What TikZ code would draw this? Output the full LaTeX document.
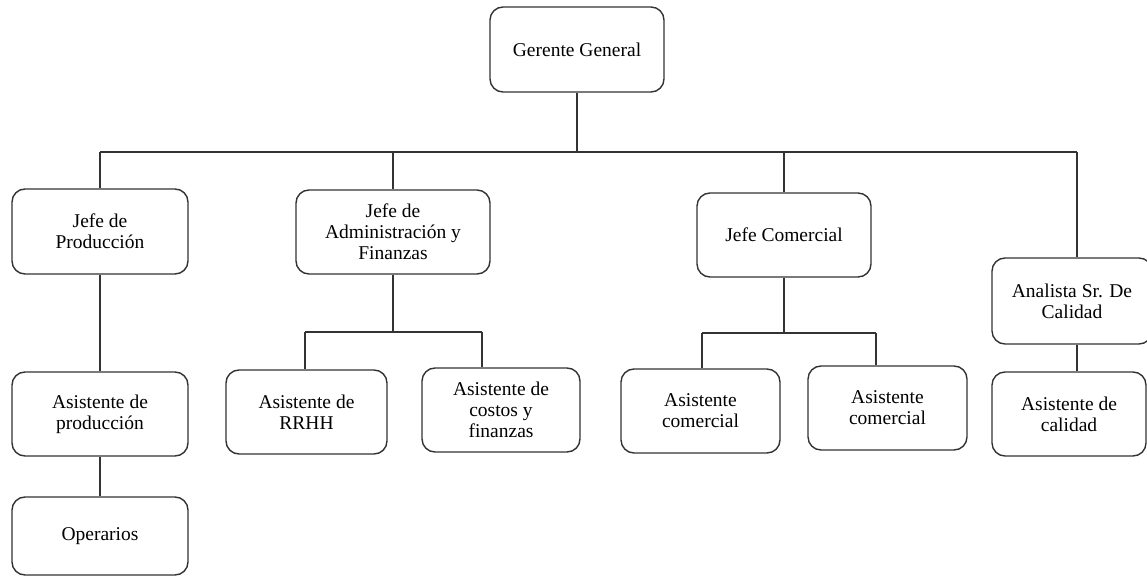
\documentclass[tikz,border=0pt]{standalone}
\usepackage{fontspec}
\setmainfont{Liberation Serif}
\begin{document}
\begin{tikzpicture}[x=1pt,y=-1pt,
  box/.style={draw=black!80, line width=1.4pt, rounded corners=13pt, fill=white,
    align=center, inner sep=0pt, font=\fontsize{19.5}{21}\selectfont},
  link/.style={draw=black!80, line width=1.4pt}]
\useasboundingbox (0,0) rectangle (1147,577);

% \orgbox{name}{left}{top}{right}{bottom}{label}
\newcommand\orgbox[6]{%
  \node[box, minimum width={(#4)-(#2)}, minimum height={(#5)-(#3)}]
    (#1) at ({((#2)+(#4))/2},{((#3)+(#5))/2}) {#6};}

% top level
\orgbox{gg}{490}{7}{664}{92}{Gerente General}

% department heads
\orgbox{jp}{12}{189}{188}{274}{Jefe de\\Producción}
\orgbox{ja}{296}{190}{490}{274}{Jefe de\\Administración y\\Finanzas}
\orgbox{jc}{697}{193}{871}{277}{Jefe Comercial}
\orgbox{an}{992}{258}{1152}{344}{Analista Sr. De\\Calidad}

% assistants
\orgbox{ap}{12}{372}{188}{456}{Asistente de\\producción}
\orgbox{op}{12}{497}{188}{575}{Operarios}
\orgbox{rh}{226}{370}{387}{454}{Asistente de\\RRHH}
\orgbox{cf}{422}{368}{580}{452}{Asistente de\\costos y\\finanzas}
\orgbox{ca}{621}{369}{780}{453}{Asistente\\comercial}
\orgbox{cb}{808}{366}{967}{450}{Asistente\\comercial}
\orgbox{ac}{992}{372}{1146}{456}{Asistente de\\calidad}

% branch bars
\coordinate (barL) at (100,152);
\coordinate (barR) at (1077,152);
\coordinate (admL) at (305,332);
\coordinate (admR) at (482,332);
\coordinate (comL) at (702,333);
\coordinate (comR) at (876,333);

% main level
\draw[link] (gg.south) -- (gg.south |- barL);
\draw[link] (barL) -- (barR);
\draw[link] (barL) -- (barL |- jp.north);
\draw[link] (ja.north |- barL) -- (ja.north);
\draw[link] (jc.north |- barL) -- (jc.north);
\draw[link] (barR) -- (barR |- an.north);

% production chain
\draw[link] (jp.south) -- (jp.south |- ap.north);
\draw[link] (ap.south) -- (ap.south |- op.north);

% administration
\draw[link] (ja.south) -- (ja.south |- admL);
\draw[link] (admL) -- (admR);
\draw[link] (admL) -- (admL |- rh.north);
\draw[link] (admR) -- (admR |- cf.north);

% commercial
\draw[link] (jc.south) -- (jc.south |- comL);
\draw[link] (comL) -- (comR);
\draw[link] (comL) -- (comL |- ca.north);
\draw[link] (comR) -- (comR |- cb.north);

% quality
\draw[link] (barR |- an.south) -- (barR |- ac.north);
\end{tikzpicture}
\end{document}
